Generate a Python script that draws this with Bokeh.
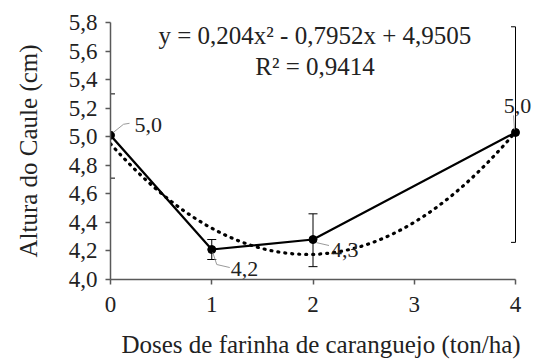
from bokeh.plotting import figure
from bokeh.models import Range1d, FixedTicker, Label
from bokeh.embed import file_html
from bokeh.resources import INLINE
import numpy as np

# ---- data ----
doses = [0, 1, 2, 4]
altura = [5.01, 4.21, 4.28, 5.03]
erro_sup = [5.30, 4.28, 4.46, 5.77]
erro_inf = [4.71, 4.14, 4.09, 4.26]
rotulos = ["5,0", "4,2", "4,3", "5,0"]
coef = [0.204, -0.7952, 4.9505]
equacao = "y = 0,204x\u00b2  - 0,7952x  + 4,9505"
r2 = "R\u00b2 = 0,9414"
x_ticks = [0, 1, 2, 3, 4]
x_tick_labels = ["0", "1", "2", "3", "4"]
y_ticks = [4.0, 4.2, 4.4, 4.6, 4.8, 5.0, 5.2, 5.4, 5.6, 5.8]
y_tick_labels = ["4,0", "4,2", "4,4", "4,6", "4,8", "5,0", "5,2", "5,4", "5,6", "5,8"]

FONT = "Liberation Serif"
X_MIN, X_MAX = 0, 4          # axis extent
PX_PER_X = 405 / 4           # pixels per dose unit
FH = 257
YR = (4.0, 5.8)
EXTRA_PX = 16                # room on the right for the last label
FW = int(round((X_MAX - X_MIN) * PX_PER_X)) + EXTRA_PX
XR = (X_MIN, X_MAX + EXTRA_PX / PX_PER_X)

p = figure(width=533, height=361, frame_width=FW, frame_height=FH,
           x_range=Range1d(*XR), y_range=Range1d(*YR),
           output_backend="svg", toolbar_location=None,
           min_border_left=110, min_border_right=2, min_border_top=22, min_border_bottom=82)
p.outline_line_color = None
p.grid.grid_line_color = None
p.background_fill_color = "white"
p.border_fill_color = "white"

for ax in (p.xaxis, p.yaxis):
    ax.axis_line_color = "#595959"
    ax.axis_line_width = 1.5
    ax.major_tick_line_color = "#595959"
    ax.major_tick_line_width = 1.5
    ax.major_tick_out = 5
    ax.major_tick_in = 0
    ax.minor_tick_line_color = None
    ax.major_label_text_font = FONT
    ax.major_label_text_font_size = "23px"
    ax.major_label_text_color = "#222222"
    ax.axis_label_text_font = FONT
    ax.axis_label_text_font_size = "25px"
    ax.axis_label_text_font_style = "normal"
    ax.axis_label_text_color = "#222222"

p.xaxis.bounds = (X_MIN, X_MAX)
p.xaxis.ticker = FixedTicker(ticks=x_ticks)
p.xaxis.major_label_overrides = {t: l for t, l in zip(x_ticks, x_tick_labels)}
p.yaxis.ticker = FixedTicker(ticks=y_ticks)
p.yaxis.major_label_overrides = {t: l for t, l in zip(y_ticks, y_tick_labels)}
p.xaxis.axis_label = "Doses de farinha de caranguejo (ton/ha)"
p.yaxis.axis_label = "Altura do Caule (cm)"
p.xaxis.major_label_standoff = 12
p.xaxis.axis_label_standoff = 16
p.yaxis.major_label_standoff = 8
p.yaxis.axis_label_standoff = 24

px_x = 1 / PX_PER_X
px_y = (YR[1] - YR[0]) / FH

# trend line from displayed coefficients
xs = np.linspace(X_MIN, X_MAX, 200)
ys = np.polyval(coef, xs)
p.line(xs, ys, line_color="black", line_width=3.2, line_dash="1 6", line_cap="round")

# error bars (caps cut at the axis extent, as in the original)
hw = 4.5 * px_x
cap_x0 = [max(x - hw, X_MIN) for x in doses]
cap_x1 = [min(x + hw, X_MAX) for x in doses]
p.segment(doses, erro_inf, doses, erro_sup, line_color="black", line_width=1)
p.segment(cap_x0, erro_sup, cap_x1, erro_sup, line_color="black", line_width=1)
p.segment(cap_x0, erro_inf, cap_x1, erro_inf, line_color="black", line_width=1)

# mean line + points
p.line(doses, altura, line_color="black", line_width=2.2)
p.scatter(doses, altura, marker="circle", size=8, fill_color="black", line_color="black")

# leader lines (pixel offsets converted to data units)
leaders_px = [
    [(3, 3), (13, 11), (19, 12)],
    [(1, -3), (5, -15), (18, -18)],
    [(3, -3), (16, -6)],
    [(-1, 3), (-2, 17)],
]
lx, ly = [], []
for xi, yi, pts in zip(doses, altura, leaders_px):
    lx.append([xi + dx * px_x for dx, dy in pts])
    ly.append([yi + dy * px_y for dx, dy in pts])
p.multi_line(lx, ly, line_color="#9a9a9a", line_width=1)

# data labels
offs = [(24, 10, "left"), (19, -19, "left"), (18, -10, "left"), (2, 26, "center")]
for xi, yi, t, (dx, dy, al) in zip(doses, altura, rotulos, offs):
    p.add_layout(Label(x=xi, y=yi, text=t, x_offset=dx, y_offset=dy,
                       text_align=al, text_baseline="middle",
                       text_font=FONT, text_font_size="22px", text_color="#222222"))

# equation
p.add_layout(Label(x=2.08, y=5.71, text=equacao, text_align="center", text_baseline="middle",
                   text_font=FONT, text_font_size="25px", text_color="#222222"))
p.add_layout(Label(x=2.02, y=5.49, text=r2, text_align="center", text_baseline="middle",
                   text_font=FONT, text_font_size="25px", text_color="#222222"))

open("out.html", "w").write(file_html(p, INLINE))
